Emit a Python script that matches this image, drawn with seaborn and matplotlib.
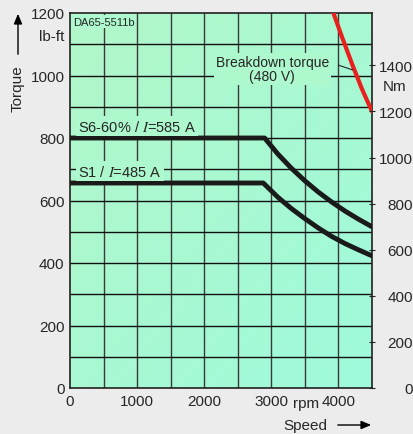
import numpy as np
import pandas as pd
import matplotlib
matplotlib.use("Agg")
import matplotlib.pyplot as plt
import seaborn as sns

# values (speed in rpm, torque in lb-ft)
s6_speed = [0, 2900, 3100, 3300, 3500, 3700, 3900, 4100, 4300, 4500]
s6_torque = [800, 800, 748, 703, 663, 627, 595, 566, 540, 516]
s1_speed = [0, 2880, 3100, 3300, 3500, 3700, 3900, 4100, 4300, 4500]
s1_torque = [656, 656, 610, 574, 542, 512, 485, 462, 442, 423]
bd_speed = [3880, 3925, 4050, 4210, 4350, 4500]
bd_torque = [1225, 1200, 1125, 1033, 957, 885]

left_ticks = [0, 200, 400, 600, 800, 1000, 1200]
right_ticks = [0, 200, 400, 600, 800, 1000, 1200, 1400]
x_ticks = [0, 1000, 2000, 3000, 4000]
LBFT_TO_NM = 1.35582

sns.set_style("white")
plt.rcParams["font.family"] = ["Liberation Sans", "DejaVu Sans"]
plt.rcParams["mathtext.fontset"] = "stix"

fig = plt.figure(figsize=(4.14, 4.35), dpi=100, facecolor="#ececec")
ax = fig.add_axes([70 / 414, 46 / 435, 302 / 414, 375 / 435])

# mint background with a light gradient
grad = np.linspace(0, 1, 200)
gx, gy = np.meshgrid(grad, grad)
cmap = matplotlib.colors.LinearSegmentedColormap.from_list("mint", ["#b2f7c9", "#9ffadb"])
ax.imshow((gx + gy) / 2, extent=[0, 4500, 0, 1200], cmap=cmap, aspect="auto", origin="upper", zorder=0)

# grid
for gxv in np.arange(500, 4500, 500):
    ax.axvline(gxv, color="#3a3a3a", lw=1.0, zorder=1)
for gyv in np.arange(100, 1200, 100):
    ax.axhline(gyv, color="#111111", lw=1.0, zorder=1)

df6 = pd.DataFrame({"speed": s6_speed, "torque": s6_torque})
df1 = pd.DataFrame({"speed": s1_speed, "torque": s1_torque})
dfb = pd.DataFrame({"speed": bd_speed, "torque": bd_torque})
sns.lineplot(data=df6, x="speed", y="torque", ax=ax, color="#1a1a1a", lw=3.5, zorder=3)
sns.lineplot(data=df1, x="speed", y="torque", ax=ax, color="#1a1a1a", lw=3.5, zorder=3)
sns.lineplot(data=dfb, x="speed", y="torque", ax=ax, color="#e8201e", lw=3, zorder=3)

ax.set_xlim(0, 4500)
ax.set_ylim(0, 1200)
ax.set_xticks(x_ticks)
ax.set_xticklabels(["0", "1000", "2000", "3000", "4000"])
ax.set_yticks(left_ticks)
ax.set_xlabel("")
ax.set_ylabel("")
ax.tick_params(axis="both", length=0, labelsize=11, pad=4)
for sp in ax.spines.values():
    sp.set_color("#222222")
    sp.set_linewidth(1.2)

box = dict(boxstyle="square,pad=0.15", facecolor="#adf8cd", edgecolor="none")
ax.text(120, 838, "S6-60% / $I$=585 A", fontsize=10.5, va="center", ha="left", bbox=box, zorder=4)
ax.text(120, 694, "S1 / $I$=485 A", fontsize=10.5, va="center", ha="left", bbox=box, zorder=4)
ax.text(45, 1172, "DA65-5511b", fontsize=8, va="center", ha="left", bbox=box, zorder=4)
ax.text(3015, 1022, "Breakdown torque\n(480 V)", fontsize=10, va="center", ha="center",
        linespacing=1.0, bbox=box, zorder=4)
ax.plot([4000, 4210], [1033, 1018], color="#222222", lw=0.8, zorder=4)

# right axis in Nm, labels flush with the right edge
ax2 = ax.twinx()
ax2.set_ylim(0, 1200 * LBFT_TO_NM)
ax2.set_yticks(right_ticks)
ax2.tick_params(axis="y", direction="inout", length=5, labelsize=11, pad=27, color="#222222")
for lab in ax2.get_yticklabels():
    lab.set_horizontalalignment("right")
for sp in ax2.spines.values():
    sp.set_visible(False)

# unit labels and axis names
fig.text(64 / 414, 1 - 37 / 435, "lb-ft", fontsize=11, ha="right", va="center")
fig.text(383 / 414, 1 - 87 / 435, "Nm", fontsize=11, ha="left", va="center")
fig.text(306 / 414, 1 - 404 / 435, "rpm", fontsize=11, ha="center", va="center")
fig.text(18 / 414, 1 - 89 / 435, "Torque", fontsize=11, rotation=90, ha="center", va="center")
fig.text(305 / 414, 1 - 426 / 435, "Speed", fontsize=11, ha="center", va="center")
fig.add_artist(matplotlib.patches.FancyArrowPatch((18 / 414, 1 - 58 / 435), (18 / 414, 1 - 12 / 435),
               transform=fig.transFigure, arrowstyle="-|>,head_length=6,head_width=2.5", color="black", lw=1))
fig.add_artist(matplotlib.patches.FancyArrowPatch((335 / 414, 1 - 426 / 435), (374 / 414, 1 - 426 / 435),
               transform=fig.transFigure, arrowstyle="-|>,head_length=6,head_width=2.5", color="black", lw=1))

fig.savefig("out.png", dpi=100, facecolor=fig.get_facecolor())
